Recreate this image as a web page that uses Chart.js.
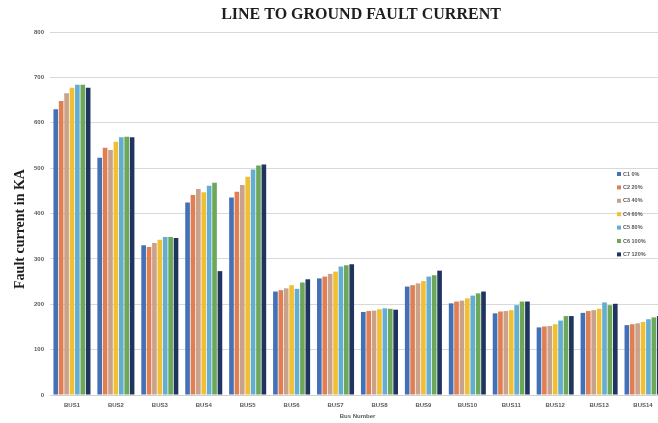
<!DOCTYPE html>
<html>
<head>
<meta charset="utf-8">
<script src="https://cdn.jsdelivr.net/npm/chart.js@4.4.1/dist/chart.umd.min.js"></script>
<style>
  html, body { margin: 0; padding: 0; background: #ffffff; overflow: hidden; }
  #wrap { width: 666px; height: 423px; }
</style>
</head>
<body>
<div id="wrap"><canvas id="chart" width="666" height="423"></canvas></div>
<script>
// Bus labels and line-to-ground fault current (kA) per loading case
const buses = ['BUS1', 'BUS2', 'BUS3', 'BUS4', 'BUS5', 'BUS6', 'BUS7',
               'BUS8', 'BUS9', 'BUS10', 'BUS11', 'BUS12', 'BUS13', 'BUS14'];

const seriesNames = ['C1 0%', 'C2 20%', 'C3 40%', 'C4 60%', 'C5 80%', 'C6 100%', 'C7 120%'];

const c1 = [630, 523, 330, 424, 435, 228, 257, 183, 239, 202, 180, 149, 181, 154];
const c2 = [648, 545, 326, 441, 448, 231, 261, 185, 242, 206, 184, 151, 185, 156];
const c3 = [665, 540, 335, 454, 463, 235, 267, 186, 246, 208, 185, 152, 187, 158];
const c4 = [677, 558, 342, 447, 481, 242, 272, 189, 251, 213, 187, 156, 190, 161];
const c5 = [684, 568, 348, 461, 497, 234, 283, 191, 261, 219, 198, 164, 204, 167];
const c6 = [684, 569, 348, 468, 506, 248, 286, 190, 264, 224, 206, 174, 198, 171];
const c7 = [677, 568, 346, 273, 508, 255, 288, 188, 274, 228, 206, 174, 201, 174];

const yTicks = [0, 100, 200, 300, 400, 500, 600, 700, 800];

const seriesValues = [c1, c2, c3, c4, c5, c6, c7];
const seriesColors = ['#4470b8', '#e07f52', '#c9a28e', '#f1bf33', '#62add0', '#6da85a', '#1f3560'];

const chartTitle = 'LINE TO GROUND FAULT CURRENT';
const yTitle = 'Fault current in KA';
const xTitle = 'Bus Number';

// Title, vertical axis title and the in-plot legend
const annotations = {
  id: 'annotations',
  afterDraw(chart) {
    const ctx = chart.ctx;
    ctx.save();
    ctx.fillStyle = '#1e1e1e';
    ctx.textAlign = 'center';
    ctx.textBaseline = 'middle';
    ctx.font = 'bold 16px "Liberation Serif", serif';
    ctx.fillText(chartTitle, 361, 15);

    ctx.save();
    ctx.translate(20, 229);
    ctx.rotate(-Math.PI / 2);
    ctx.font = 'bold 14px "Liberation Serif", serif';
    ctx.fillText(yTitle, 0, 0);
    ctx.restore();

    // legend entries, stacked at the right of the plot
    ctx.textAlign = 'left';
    ctx.font = 'bold 5.5px "Liberation Sans", sans-serif';
    seriesNames.forEach((name, i) => {
      const y = 174 + i * 13.4;
      ctx.fillStyle = seriesColors[i];
      ctx.fillRect(617, y - 2, 4, 4);
      ctx.fillStyle = '#595959';
      ctx.fillText(name, 623, y);
    });
    ctx.restore();
  }
};

const ctx = document.getElementById('chart').getContext('2d');
new Chart(ctx, {
  type: 'bar',
  data: {
    labels: buses,
    datasets: seriesNames.map((name, i) => ({
      label: name,
      data: seriesValues[i],
      backgroundColor: seriesColors[i],
      borderWidth: 0,
      barPercentage: 0.86,
      categoryPercentage: 0.86
    }))
  },
  options: {
    responsive: false,
    animation: false,
    layout: { padding: { top: 32, right: 1, left: 0, bottom: 0 } },
    plugins: {
      legend: { display: false },
      title: { display: false },
      tooltip: { enabled: false }
    },
    scales: {
      x: {
        grid: { display: false, drawTicks: false },
        border: { display: true, color: '#d0d0d0' },
        ticks: {
          font: { size: 6, weight: 'bold', family: 'Liberation Sans' },
          color: '#595959',
          padding: 7,
          maxRotation: 0
        },
        title: {
          display: true,
          text: xTitle,
          font: { size: 6, weight: 'bold', family: 'Liberation Sans' },
          color: '#595959',
          padding: { top: 2, bottom: 3 }
        },
        afterFit(scale) { scale.height = 28; }
      },
      y: {
        min: 0,
        max: 800,
        afterBuildTicks(scale) { scale.ticks = yTicks.map(v => ({ value: v })); },
        grid: { color: '#d9d9d9', lineWidth: 1, drawTicks: false },
        border: { display: false },
        ticks: {
          font: { size: 6, weight: 'bold', family: 'Liberation Sans' },
          color: '#595959',
          padding: 6
        },
        afterFit(scale) { scale.width = 50; }
      }
    }
  },
  plugins: [annotations]
});
</script>
</body>
</html>
